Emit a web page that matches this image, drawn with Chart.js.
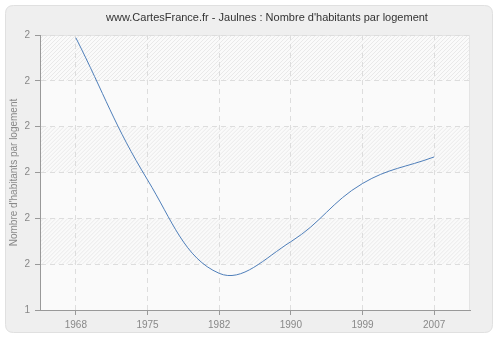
<!DOCTYPE html>
<html>
<head>
<meta charset="utf-8">
<script src="https://cdn.jsdelivr.net/npm/chart.js@4.4.1/dist/chart.umd.min.js"></script>
<style>
  html, body { margin: 0; padding: 0; background: #ffffff; }
  #wrap { width: 500px; height: 340px; }
</style>
</head>
<body>
<div id="wrap"><canvas id="c" width="500" height="340"></canvas></div>
<script>
const titleText = "www.CartesFrance.fr - Jaulnes : Nombre d'habitants par logement";
const yAxisTitle = "Nombre d'habitants par logement";
const years = ['1968', '1975', '1982', '1990', '1999', '2007'];
const habitantsParLogement = [1.994, 1.684, 1.480, 1.549, 1.676, 1.734];
const yTickLabels = ['1', '2', '2', '2', '2', '2', '2'];
const yMin = 1.4, yMax = 2.0, yStep = 0.1;

const FONT = '"Liberation Sans", Arial, sans-serif';

const backgroundPlugin = {
  id: 'bg',
  beforeDraw(chart) {
    const ctx = chart.ctx;
    const ca = chart.chartArea;
    ctx.save();
    ctx.fillStyle = '#ffffff';
    ctx.fillRect(0, 0, chart.width, chart.height);
    // panel
    const x = 5.5, y = 5.5, w = 487, h = 327, r = 8;
    ctx.beginPath();
    ctx.moveTo(x + r, y);
    ctx.lineTo(x + w - r, y);
    ctx.quadraticCurveTo(x + w, y, x + w, y + r);
    ctx.lineTo(x + w, y + h - r);
    ctx.quadraticCurveTo(x + w, y + h, x + w - r, y + h);
    ctx.lineTo(x + r, y + h);
    ctx.quadraticCurveTo(x, y + h, x, y + h - r);
    ctx.lineTo(x, y + r);
    ctx.quadraticCurveTo(x, y, x + r, y);
    ctx.closePath();
    ctx.fillStyle = '#efefef';
    ctx.fill();
    ctx.strokeStyle = '#e0e0e0';
    ctx.lineWidth = 1;
    ctx.stroke();
    // plot area
    ctx.fillStyle = '#fafafa';
    ctx.fillRect(ca.left, ca.top, ca.right - ca.left, ca.bottom - ca.top);
    const ys = chart.scales.y;
    const pix = ys.ticks.map(t => ys.getPixelForValue(t.value)).sort((a, b) => a - b);
    for (let i = 0; i < pix.length - 1; i++) {
      if (i % 2 !== 0) continue;
      const t = pix[i], b = pix[i + 1];
      ctx.save();
      ctx.beginPath();
      ctx.rect(ca.left, t, ca.right - ca.left, b - t);
      ctx.clip();
      ctx.strokeStyle = '#e9e9e9';
      ctx.lineWidth = 1;
      ctx.beginPath();
      const hh = b - t;
      for (let xx = ca.left - hh; xx < ca.right + hh; xx += 4) {
        ctx.moveTo(xx, b);
        ctx.lineTo(xx + hh, t);
      }
      ctx.stroke();
      ctx.restore();
    }
    ctx.strokeStyle = '#e4e4e4';
    ctx.strokeRect(ca.left + 0.5, ca.top + 0.5, ca.right - ca.left - 1, ca.bottom - ca.top);
    ctx.restore();
  },
  afterDraw(chart) {
    const ctx = chart.ctx;
    ctx.save();
    ctx.font = '11px ' + FONT;
    ctx.fillStyle = '#333333';
    ctx.textAlign = 'center';
    ctx.textBaseline = 'middle';
    ctx.fillText(titleText, 267, 18);
    ctx.restore();
  }
};

new Chart(document.getElementById('c'), {
  type: 'line',
  data: {
    labels: years,
    datasets: [{
      data: habitantsParLogement,
      borderColor: '#4f7fba',
      borderWidth: 1,
      pointRadius: 0,
      pointHoverRadius: 0,
      fill: false,
      tension: 0.4
    }]
  },
  options: {
    responsive: false,
    animation: false,
    devicePixelRatio: 1,
    layout: { padding: { left: 8, right: 30, top: 35, bottom: 0 } },
    plugins: {
      legend: { display: false },
      title: { display: false },
      tooltip: { enabled: false }
    },
    scales: {
      x: {
        type: 'category',
        offset: true,
        grid: {
          offset: false,
          color: '#dddddd',
          tickColor: '#999999',
          tickLength: 5,
          tickBorderDash: []
        },
        border: { display: true, color: '#999999', width: 1, dash: [5, 4] },
        ticks: { color: '#888888', font: { family: FONT, size: 10 }, padding: 4, maxRotation: 0 },
        afterFit(scale) { scale.height = 30; }
      },
      y: {
        min: yMin,
        max: yMax,
        grid: {
          color: '#dddddd',
          tickColor: '#999999',
          tickLength: 5,
          tickBorderDash: []
        },
        border: { display: true, color: '#999999', width: 1, dash: [5, 4] },
        ticks: {
          stepSize: yStep,
          color: '#888888',
          font: { family: FONT, size: 10 },
          padding: 5,
          callback: (v, i) => yTickLabels[i]
        },
        title: {
          display: true,
          text: yAxisTitle,
          color: '#888888',
          font: { family: FONT, size: 10 },
          padding: { top: 0, bottom: 0 }
        },
        afterFit(scale) { scale.width = 32; }
      }
    }
  },
  plugins: [backgroundPlugin]
});
</script>
</body>
</html>
